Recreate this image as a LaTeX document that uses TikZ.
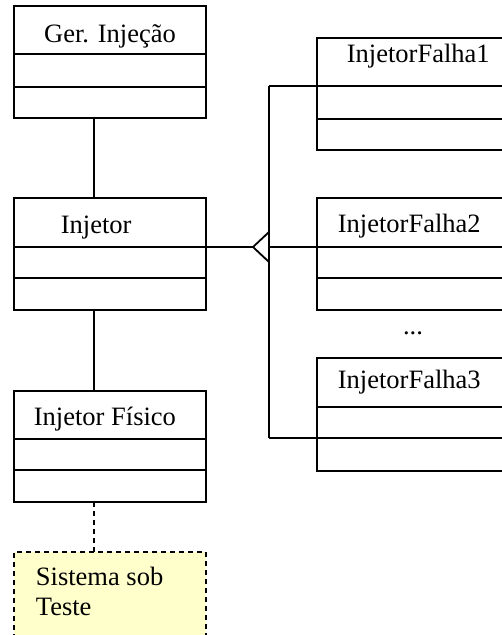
\documentclass[tikz,border=0pt]{standalone}
\usepackage{fontspec}
\setmainfont{Liberation Serif}
\definecolor{sutfill}{HTML}{FFFFCC}
\begin{document}
\begin{tikzpicture}[x=1pt,y=-1pt,line width=1.8pt,
  cls/.style={draw,fill=white,anchor=north west,inner sep=0pt,outer sep=0pt,minimum width=#1},
  lbl/.style={anchor=base west,inner sep=0pt,font=\fontsize{26.5}{30}\selectfont},
  dep/.style={dashed,dash pattern=on 5pt off 4pt}]
\useasboundingbox (0,0) rectangle (502,635);
\clip (0,0) rectangle (502,635);
\fill[white] (0,0) rectangle (502,635);
% left column
\node[cls=192pt,minimum height=112pt] (gi) at (14,6) {};
\draw (gi.north west |- 0,54) -- (gi.north east |- 0,54);
\draw (gi.north west |- 0,87) -- (gi.north east |- 0,87);
\node[lbl,anchor=base] (gitxt) at (110,42) {Ger. Injeção};

\node[cls=192pt,minimum height=112pt] (inj) at (14,198) {};
\draw (inj.north west |- 0,247) -- (inj.north east |- 0,247);
\draw (inj.north west |- 0,278) -- (inj.north east |- 0,278);
\node[lbl] (injtxt) at (60,233) {Injetor};

\node[cls=192pt,minimum height=111pt] (inf) at (14,391) {};
\draw (inf.north west |- 0,439) -- (inf.north east |- 0,439);
\draw (inf.north west |- 0,470) -- (inf.north east |- 0,470);
\node[lbl] (inftxt) at (33,425) {Injetor Físico};

\node[cls=192pt,minimum height=110pt,dep,fill=sutfill] (sut) at (14,552) {};
\node[lbl] (suttxt1) at (35,585) {Sistema sob};
\node[lbl] (suttxt2) at (35,615) {Teste};

% right column
\node[cls=200pt,minimum height=112pt] (f1) at (317,38) {};
\draw (f1.north west |- 0,119) -- (f1.north east |- 0,119);
\node[lbl] (f1txt) at (346,62) {InjetorFalha1};

\node[cls=200pt,minimum height=112pt] (f2) at (317,198) {};
\draw (f2.north west |- 0,278) -- (f2.north east |- 0,278);
\node[lbl] (f2txt) at (337,232) {InjetorFalha2};

\node[lbl,anchor=base] (dots) at (413,334) {...};

\node[cls=200pt,minimum height=113pt] (f3) at (317,358) {};
\draw (f3.north west |- 0,407) -- (f3.north east |- 0,407);
\node[lbl] (f3txt) at (337,388) {InjetorFalha3};

% associations
\draw ([xshift=-16pt]gi.south) -- ([xshift=-16pt]inj.north);
\draw ([xshift=-16pt]inj.south) -- ([xshift=-16pt]inf.north);
\draw[dep] ([xshift=-16pt]inf.south) -- ([xshift=-16pt]sut.north);

% generalization
\coordinate (tip) at (253,247);
\coordinate (gb) at (269,247);
\coordinate (gt) at (269,232);
\coordinate (gbb) at (269,262);
\coordinate (j1) at (269,86);
\coordinate (j3) at (269,438);
\draw (inj.east |- tip) -- (tip);
\draw[line join=miter] (gt) -- (tip) -- (gbb);
\draw (j1) -- (j3);
\draw (j1) -- (f1.east |- j1);
\draw (gb) -- (f2.east |- gb);
\draw (j3) -- (f3.east |- j3);
\end{tikzpicture}
\end{document}
